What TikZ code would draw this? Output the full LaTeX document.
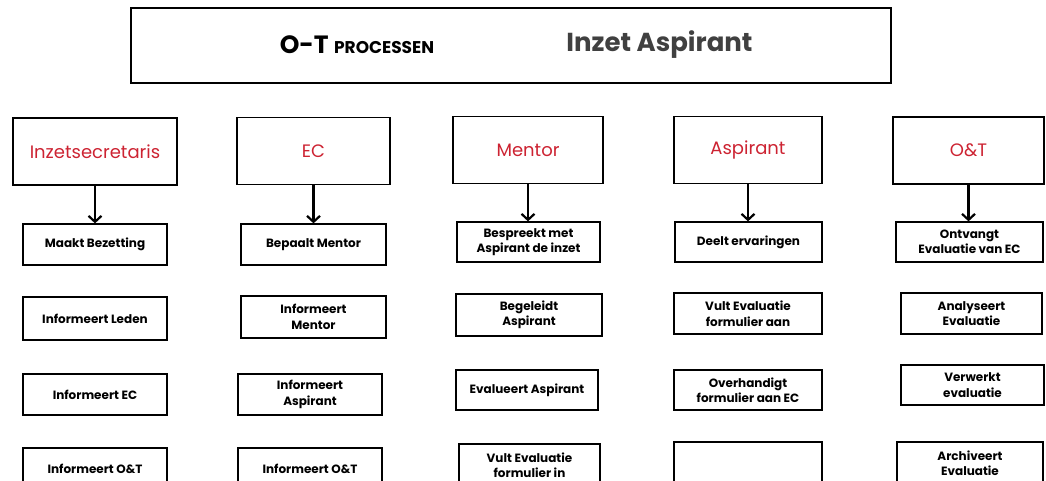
\documentclass[tikz,border=0pt]{standalone}
\usepackage{fontspec}
\setmainfont{Poppins}
\usepackage{tikz}
\usetikzlibrary{shapes,arrows.meta,positioning}
\definecolor{hdred}{RGB}{205,35,50}
\definecolor{ttgray}{RGB}{64,64,64}
\tikzstyle{head} = [rectangle, draw, line width=1.4pt, text=hdred, font=\fontsize{18}{21}\selectfont, minimum height=67pt, inner sep=1pt]
\tikzstyle{task} = [rectangle, draw, line width=1.3pt, align=center, font=\bfseries\fontsize{12}{15.5}\selectfont, minimum height=41pt, inner sep=1pt]
\tikzstyle{arrow} = [draw, line width=2.4pt, -{Straight Barb[length=6pt,width=13pt,line width=2.2pt]}]

\begin{document}
\begin{tikzpicture}[x=1pt, y=-1pt]
			\useasboundingbox (0,0) rectangle (1046,480);
			\clip (0,0) rectangle (1046,480);
			\fill [white] (0,0) rectangle (1046,480);

			% title
			\node [rectangle, draw, line width=1.6pt, minimum width=760pt, minimum height=75pt] (title) at (511,45.5) {};
			\node [font=\bfseries] (proc) at (357,45) {\fontsize{25}{30}\selectfont O-T \fontsize{17}{20}\selectfont PROCESSEN};
			\node [font=\bfseries\fontsize{26}{30}\selectfont, text=ttgray] (inzet) at (659.5,45) {Inzet Aspirant};

			% koppen
			\node [head, minimum width=164pt] (h1) at (95,151.5) {Inzetsecretaris};
			\node [head, minimum width=153pt] (h2) at (313.5,151) {EC};
			\node [head, minimum width=150pt] (h3) at (528,150) {Mentor};
			\node [head, minimum width=148pt] (h4) at (748,150) {Aspirant};
			\node [head, minimum width=151pt] (h5) at (968.5,150.5) {O\&T};

			% Inzetsecretaris
			\node [task, minimum width=144pt] (s11) at (95,244.5) {Maakt Bezetting};
			\node [task, minimum width=144pt, minimum height=43pt] (s12) at (95,318.5) {Informeert Leden};
			\node [task, minimum width=144pt] (s13) at (95,394.5) {Informeert EC};
			\node [task, minimum width=144pt, minimum height=42pt] (s14) at (95,469) {Informeert O\&T};

			% EC
			\node [task, minimum width=145pt] (s21) at (313.5,244.5) {Bepaalt Mentor};
			\node [task, minimum width=145pt, minimum height=42pt] (s22) at (313.5,317) {Informeert\\Mentor};
			\node [task, minimum width=144pt] (s23) at (310,394.5) {Informeert\\Aspirant};
			\node [task, minimum width=144pt, minimum height=42pt] (s24) at (310,469) {Informeert O\&T};

			% Mentor
			\node [task, minimum width=143pt, minimum height=40pt] (s31) at (528.5,242) {Bespreekt met\\Aspirant de inzet};
			\node [task, minimum width=146pt, minimum height=42pt] (s32) at (529,315) {Begeleidt\\Aspirant};
			\node [task, minimum width=142pt, minimum height=40pt] (s33) at (527,390) {Evalueert Aspirant};
			\node [task, minimum width=141pt, minimum height=42pt] (s34) at (529.5,465) {Vult Evaluatie\\formulier in};

			% Aspirant
			\node [task, minimum width=147pt, minimum height=40pt] (s41) at (748.5,242) {Deelt ervaringen};
			\node [task, minimum width=148pt] (s42) at (748,313.5) {Vult Evaluatie\\formulier aan};
			\node [task, minimum width=148pt, minimum height=40pt] (s43) at (748,390) {Overhandigt\\formulier aan EC};
			\node [task, minimum width=148pt, minimum height=42pt] (s44) at (748,463) {};

			% O&T
			\node [task, minimum width=147pt, minimum height=40pt] (s51) at (969.5,242) {Ontvangt\\Evaluatie van EC};
			\node [task, minimum width=141pt] (s52) at (971.5,313.5) {Analyseert\\Evaluatie};
			\node [task, minimum width=143pt, minimum height=40pt] (s53) at (972.5,385) {Verwerkt\\evaluatie};
			\node [task, minimum width=146pt, minimum height=42pt] (s54) at (970,463) {Archiveert\\Evaluatie};

			\path [arrow] (h1.south) -- (h1.south |- s11.north);
			\path [arrow] (h2.south) -- (h2.south |- s21.north);
			\path [arrow] (h3.south) -- (h3.south |- s31.north);
			\path [arrow] (h4.south) -- (h4.south |- s41.north);
			\path [arrow] (h5.south) -- (h5.south |- s51.north);
		\end{tikzpicture}
\end{document}
